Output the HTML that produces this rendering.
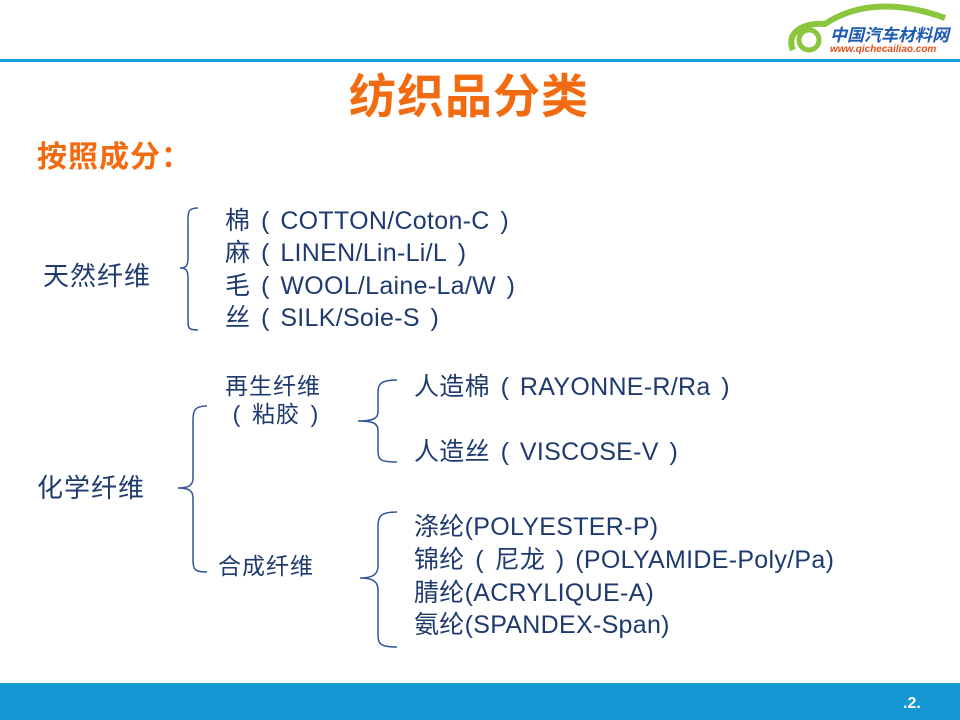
<!DOCTYPE html>
<html><head><meta charset="utf-8"><style>
body{margin:0;width:960px;height:720px;position:relative;background:#fff;overflow:hidden;font-family:"Liberation Sans","Noto Sans CJK SC",sans-serif;color:#1f3a6e}
.t{position:absolute;white-space:nowrap;line-height:1}
.i{font-size:25px;letter-spacing:0.3px}
.p{display:inline-block;width:30px;text-align:center}
</style></head><body>
<div style="position:absolute;left:0;top:59px;width:960px;height:3px;background:#12a0d8"></div>
<div style="position:absolute;left:0;top:683px;width:960px;height:37px;background:#1497d2"></div>
<div class="t" style="left:903px;top:696px;color:#fff;font-size:16px;font-weight:bold">.2.</div>
<svg style="position:absolute;left:785px;top:2px" width="170" height="55">
<path d="M8 48 C0 30 20 20 40 22 C70 2 110 -2 160 16" fill="none" stroke="#8cc63f" stroke-width="6"/>
<circle cx="24" cy="38" r="10" fill="none" stroke="#8cc63f" stroke-width="5"/>
</svg>
<div class="t" style="left:830px;top:27px;font-size:17px;font-weight:bold;color:#1e5bb0;font-style:italic">中国汽车材料网</div>
<div class="t" style="left:830px;top:45px;font-size:10px;font-weight:bold;color:#e0501a;font-style:italic">www.qichecailiao.com</div>
<div class="t" style="left:349px;top:73px;font-size:47px;font-weight:bold;color:#f26b10;letter-spacing:1px">纺织品分类</div>
<div class="t" style="left:37px;top:143px;font-size:30px;font-weight:bold;color:#f26b10;letter-spacing:1px">按照成分：</div>
<svg style="position:absolute;left:0;top:0" width="960" height="720" fill="none" stroke="#2f5597" stroke-width="1.5">
<path d="M198 208 C188 208 188 212 188 220 L188 258 C188 266 186 268 180 268 C186 268 188 270 188 278 L188 320 C188 328 188 330 198 330"/>
<path d="M207 406 C195 406 193 410 193 420 L193 478 C193 486 188 488 178 488 C188 488 193 490 193 498 L193 560 C193 570 195 572 207 572"/>
<path d="M397 380 C381 380 378 384 378 392 L378 412 C378 419 372 421 358 421 C372 421 378 423 378 430 L378 452 C378 460 381 462 397 462"/>
<path d="M397 512 C381 512 378 516 378 526 L378 566 C378 575 372 578 360 578 C372 578 378 581 378 590 L378 636 C378 644 381 647 397 647"/>
</svg>
<div class="t" style="left:43px;top:263px;font-size:26px;letter-spacing:1px">天然纤维</div>
<div class="t i" style="left:225px;top:209px">棉<span class="p">(</span>COTTON/Coton-C<span class="p">)</span></div>
<div class="t i" style="left:225px;top:241px">麻<span class="p">(</span>LINEN/Lin-Li/L<span class="p">)</span></div>
<div class="t i" style="left:225px;top:274px">毛<span class="p">(</span>WOOL/Laine-La/W<span class="p">)</span></div>
<div class="t i" style="left:225px;top:306px">丝<span class="p">(</span>SILK/Soie-S<span class="p">)</span></div>
<div class="t" style="left:225px;top:375px;font-size:23px;letter-spacing:1px">再生纤维</div>
<div class="t" style="left:222px;top:403px;font-size:23px;letter-spacing:1px"><span class="p">(</span>粘胶<span class="p">)</span></div>
<div class="t" style="left:37px;top:475px;font-size:26px;letter-spacing:1px">化学纤维</div>
<div class="t" style="left:218px;top:555px;font-size:23px;letter-spacing:1px">合成纤维</div>
<div class="t i" style="left:414px;top:375px">人造棉<span class="p">(</span>RAYONNE-R/Ra<span class="p">)</span></div>
<div class="t i" style="left:414px;top:440px">人造丝<span class="p">(</span>VISCOSE-V<span class="p">)</span></div>
<div class="t i" style="left:414px;top:515px">涤纶(POLYESTER-P)</div>
<div class="t i" style="left:414px;top:548px">锦纶<span class="p">(</span>尼龙<span class="p">)</span>(POLYAMIDE-Poly/Pa)</div>
<div class="t i" style="left:414px;top:581px">腈纶(ACRYLIQUE-A)</div>
<div class="t i" style="left:414px;top:613px">氨纶(SPANDEX-Span)</div>
</body></html>
